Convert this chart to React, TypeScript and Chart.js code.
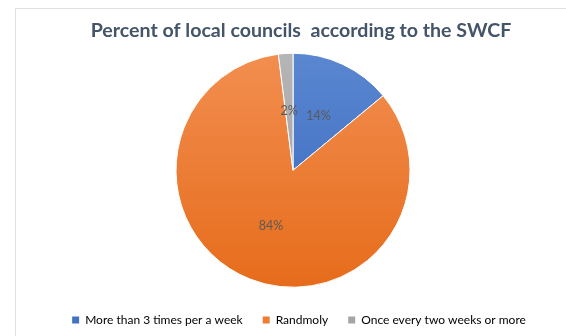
import React, { useEffect, useRef } from "react";
import { Chart, registerables } from "chart.js";

Chart.register(...registerables);

const title = "Percent of local councils  according to the SWCF";
const categories = ["More than 3 times per a week", "Randmoly", "Once every two weeks or more"];
const values = [14, 84, 2];
const colorsTop = ["#5B87D0", "#F28E50", "#B5B5B5"];
const colorsBottom = ["#3565BE", "#E66C1B", "#9C9C9C"];
const legendColors = ["#4472C4", "#ED7D31", "#A5A5A5"];

const shiftPlugin = {
  id: "shiftBlocks",
  afterLayout(chart: any) {
    const t = chart.titleBlock;
    if (t) {
      t.left += 8;
      t.right += 8;
    }
    const l = chart.legend;
    if (l) {
      l.left += 6;
      l.right += 6;
    }
  },
};

const labelPlugin = {
  id: "pctLabels",
  afterDatasetsDraw(chart: any) {
    const ctx = chart.ctx;
    const meta = chart.getDatasetMeta(0);
    const total = values.reduce((a, b) => a + b, 0);
    ctx.save();
    ctx.font = "12.5px Lato";
    ctx.fillStyle = "#595959";
    ctx.textAlign = "center";
    ctx.textBaseline = "middle";
    meta.data.forEach((arc: any, i: number) => {
      const { x, y, startAngle, endAngle, outerRadius } = arc.getProps(
        ["x", "y", "startAngle", "endAngle", "outerRadius"],
        true
      );
      const mid = (startAngle + endAngle) / 2;
      const r = outerRadius * 0.51;
      const pct = Math.round((values[i] / total) * 100);
      ctx.fillText(pct + "%", x + Math.cos(mid) * r, y + Math.sin(mid) * r);
    });
    ctx.restore();
  },
};

export default function App() {
  const ref = useRef<HTMLCanvasElement>(null);
  useEffect(() => {
    if (!ref.current) return;
    const chart = new Chart(ref.current, {
      type: "pie",
      data: {
        labels: categories,
        datasets: [
          {
            data: values,
            radius: 117,
            backgroundColor: (c: any) => {
              const ch = c.chart;
              const area = ch.chartArea;
              if (!area) return legendColors[c.dataIndex];
              const cy = (area.top + area.bottom) / 2;
              const g = ch.ctx.createLinearGradient(0, cy - 117, 0, cy + 117);
              g.addColorStop(0, colorsTop[c.dataIndex]);
              g.addColorStop(1, colorsBottom[c.dataIndex]);
              return g;
            },
            borderColor: "#ffffff",
            borderWidth: 1,
          },
        ],
      },
      options: {
        animation: false,
        responsive: false,
        maintainAspectRatio: false,
        layout: { padding: { left: 20, right: 0, top: 0, bottom: 0 } },
        plugins: {
          title: {
            display: true,
            text: title,
            color: "#44546A",
            font: { family: "Lato", size: 19.6, weight: "bold" },
            padding: { top: 19, bottom: 4 },
          },
          legend: {
            position: "bottom",
            labels: {
              color: "#595959",
              font: { family: "Lato", size: 12 },
              boxWidth: 7,
              boxHeight: 7,
              padding: 20,
              generateLabels: () =>
                categories.map((t, i) => ({
                  text: t,
                  fillStyle: legendColors[i],
                  strokeStyle: legendColors[i],
                  lineWidth: 0,
                  hidden: false,
                  index: i,
                })),
            },
          },
          tooltip: { enabled: false },
        },
      },
      plugins: [shiftPlugin, labelPlugin],
    });
    return () => chart.destroy();
  }, []);
  return (
    <div
      style={{
        position: "absolute",
        left: 0,
        top: 0,
        width: 566,
        height: 336,
        overflow: "hidden",
        background: "#ffffff",
      }}
    >
      <div
        style={{
          position: "absolute",
          left: 15,
          top: 8,
          width: 700,
          height: 500,
          borderLeft: "1px solid #DCDFE6",
          borderTop: "1px solid #DCDFE6",
        }}
      />
      <canvas ref={ref} width={566} height={336} style={{ position: "absolute", left: 0, top: 0 }} />
    </div>
  );
}
